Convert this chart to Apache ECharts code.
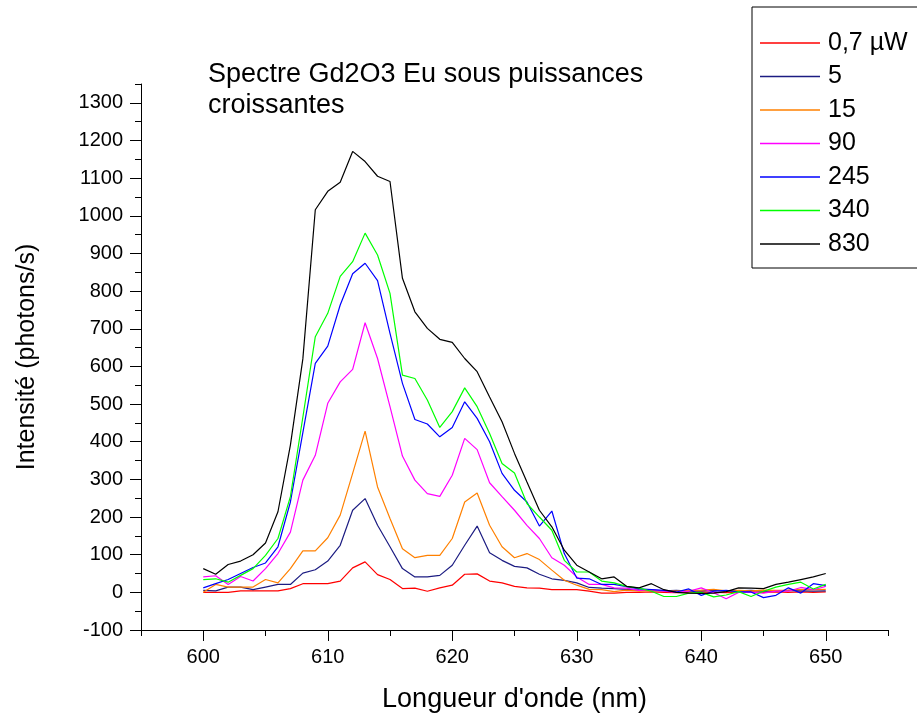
<!DOCTYPE html>
<html>
<head>
<meta charset="utf-8">
<script src="https://cdn.jsdelivr.net/npm/echarts@6/dist/echarts.min.js"></script>
<style>
html,body{margin:0;padding:0;background:#fff;}
#chart{width:917px;height:718px;}
</style>
</head>
<body>
<div id="chart"></div>
<script>
// Wavelengths (nm)
var wavelengths = [600,601,602,603,604,605,606,607,608,609,610,611,612,613,614,615,616,617,618,619,620,621,622,623,624,625,626,627,628,629,630,631,632,633,634,635,636,637,638,639,640,641,642,643,644,645,646,647,648,649,650];

// Series names (power)
var seriesNames = ['0,7 \u00b5W','5','15','90','245','340','830'];
var seriesColors = ['#ff0000','#1c1c82','#ff8000','#ff00ff','#0000ff','#00ff00','#000000'];

var p07 = [0,0,0,4,4,4,4,10,23,23,23,30,65,81,47,34,10,11,3,12,19,48,49,30,25,16,12,11,7,7,7,3,-2,-2,0,0,1,0,-1,0,1,0,-1,0,1,0,1,0,1,0,1];
var p5 = [5,4,14,14,7,14,21,21,51,60,83,125,218,249,178,121,63,41,41,45,72,125,176,105,85,69,65,48,36,32,25,13,11,10,8,6,5,4,5,3,4,5,3,4,5,3,4,5,4,3,4];
var p15 = [0,21,14,14,14,34,25,63,110,110,145,205,316,428,280,196,116,92,98,98,143,240,264,178,121,92,103,87,59,32,19,8,7,2,6,3,5,4,3,5,6,8,4,5,4,6,5,6,8,7,8];
var p90 = [41,44,21,42,30,63,103,160,298,364,502,559,592,716,621,493,362,298,262,255,311,409,379,291,254,218,178,143,92,72,41,21,21,12,11,5,7,3,0,3,12,-1,-17,0,0,-2,3,3,13,7,16];
var p245 = [12,23,34,50,66,78,121,240,424,608,654,763,846,874,828,688,555,459,447,413,438,506,462,400,316,271,240,176,216,103,38,36,21,21,15,9,7,5,1,9,-8,3,5,1,1,-14,-8,12,-2,23,18];
var p340 = [34,36,27,45,63,98,143,254,465,679,741,839,878,954,896,794,577,568,511,438,480,543,493,422,342,317,236,200,165,85,54,54,30,25,16,11,3,-11,-11,-2,0,-12,-7,2,-11,3,14,21,27,9,21];
var p830 = [63,48,74,83,100,131,214,391,620,1016,1065,1089,1171,1144,1105,1091,834,745,701,672,664,621,586,519,453,369,293,218,174,112,72,54,36,41,16,12,23,7,0,-2,-3,-2,2,12,11,10,21,27,34,41,50];

var seriesValues = [p07,p5,p15,p90,p245,p340,p830];

// Tick values
var xTickLabels = [600,610,620,630,640,650];
var xMinorTicks = [595,605,615,625,635,645,655];
var yTickLabels = [-100,0,100,200,300,400,500,600,700,800,900,1000,1100,1200,1300];
var yMinorTicks = [-50,50,150,250,350,450,550,650,750,850,950,1050,1150,1250,1350];

var FONT = '"Liberation Sans", Arial, sans-serif';

var series = seriesNames.map(function(name, i){
  return {
    name: name,
    type: 'line',
    xAxisIndex: 0,
    yAxisIndex: 0,
    symbol: 'none',
    showSymbol: false,
    lineStyle: {color: seriesColors[i], width: 1.2},
    itemStyle: {color: seriesColors[i]},
    data: wavelengths.map(function(w, k){ return [w, seriesValues[i][k]]; })
  };
});

var chart = echarts.init(document.getElementById('chart'));
chart.setOption({
  animation: false,
  backgroundColor: '#ffffff',
  title: {
    text: 'Spectre Gd2O3 Eu sous puissances\ncroissantes',
    left: 208,
    top: 59,
    padding: 0,
    textStyle: {fontFamily: FONT, fontSize: 27, fontWeight: 'normal', color: '#000', lineHeight: 31}
  },
  legend: {
    orient: 'vertical',
    left: 752,
    top: 7,
    padding: [23, 10, 11, 8],
    icon: 'path://M0,0H60V1.3H0Z',
    itemWidth: 60,
    itemHeight: 1.3,
    itemGap: 7.5,
    borderColor: '#000',
    borderWidth: 1,
    backgroundColor: '#fff',
    data: seriesNames,
    textStyle: {fontFamily: FONT, fontSize: 25, color: '#000', lineHeight: 26, padding: [0,0,0,3]}
  },
  grid: {left: 141, right: 29, top: 84, bottom: 88, containLabel: false},
  xAxis: [{
    type: 'value',
    min: 595, max: 655,
    name: "Longueur d'onde (nm)",
    nameLocation: 'middle',
    nameGap: 56,
    nameTextStyle: {fontFamily: FONT, fontSize: 27, color: '#000'},
    axisLine: {show: true, onZero: false, lineStyle: {color: '#000', width: 1}},
    axisTick: {show: true, inside: false, length: 11, customValues: xTickLabels, lineStyle: {color: '#000', width: 1}},
    axisLabel: {show: true, margin: 17, customValues: xTickLabels, fontFamily: FONT, fontSize: 20, color: '#000',
      formatter: function(v){ return String(v); }},
    splitLine: {show: false}
  }, {
    type: 'value',
    min: 595, max: 655,
    position: 'bottom',
    axisLine: {show: false, onZero: false},
    axisTick: {show: true, inside: false, length: 6, customValues: xMinorTicks, lineStyle: {color: '#000', width: 1}},
    axisLabel: {show: false},
    splitLine: {show: false}
  }],
  yAxis: [{
    type: 'value',
    min: -100, max: 1350,
    name: 'Intensit\u00e9 (photons/s)',
    nameLocation: 'middle',
    nameGap: 101,
    nameTextStyle: {fontFamily: FONT, fontSize: 25, color: '#000'},
    axisLine: {show: true, onZero: false, lineStyle: {color: '#000', width: 1}},
    axisTick: {show: true, inside: false, length: 11, customValues: yTickLabels, lineStyle: {color: '#000', width: 1}},
    axisLabel: {show: true, margin: 18, customValues: yTickLabels, fontFamily: FONT, fontSize: 20, color: '#000',
      formatter: function(v){ return String(v); }},
    splitLine: {show: false}
  }, {
    type: 'value',
    min: -100, max: 1350,
    position: 'left',
    axisLine: {show: false, onZero: false},
    axisTick: {show: true, inside: false, length: 6, customValues: yMinorTicks, lineStyle: {color: '#000', width: 1}},
    axisLabel: {show: false},
    splitLine: {show: false}
  }],
  series: series
});
</script>
</body>
</html>
